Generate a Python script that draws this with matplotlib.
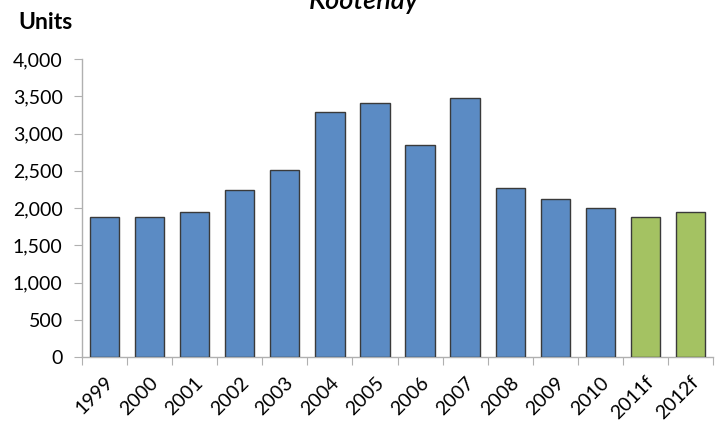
import matplotlib
matplotlib.use("Agg")
import matplotlib.pyplot as plt
from matplotlib.ticker import FuncFormatter

years = ["1999", "2000", "2001", "2002", "2003", "2004", "2005", "2006",
         "2007", "2008", "2009", "2010", "2011f", "2012f"]
units = [1875, 1875, 1942, 2241, 2514, 3289, 3413, 2849, 3476, 2262, 2115, 1994, 1881, 1948]
is_forecast = [False] * 12 + [True, True]

blue = "#5B8BC4"
green = "#A4C262"

plt.rcParams['font.family'] = ['Lato', 'DejaVu Sans']

fig = plt.figure(figsize=(7.19, 4.21), dpi=100)
ax = fig.add_axes([82 / 719, 1 - 357 / 421, (713 - 82) / 719, (357 - 59) / 421])

x = list(range(len(years)))
colors = [green if f else blue for f in is_forecast]
ax.bar(x, units, width=0.65, color=colors, edgecolor="#3a3a3a", linewidth=1.0, zorder=3)

ax.set_xlim(-0.5, len(years) - 0.5)
ax.set_ylim(0, 4000)
ax.set_yticks(range(0, 4001, 500))
ax.yaxis.set_major_formatter(FuncFormatter(lambda v, p: f"{int(v):,}"))

ax.set_xticks([i - 0.5 for i in range(len(years) + 1)])
ax.set_xticklabels([])
ax.set_xticks(x, minor=True)
ax.set_xticklabels(years, minor=True, rotation=45, ha="right", va="top",
                   rotation_mode="anchor", fontsize=14)
ax.tick_params(axis="x", which="minor", length=0, pad=12)
ax.tick_params(axis="x", which="major", length=6, color="#b0b0b0", direction="out")
ax.tick_params(axis="y", length=6, color="#b0b0b0", labelsize=14, pad=8)

for s in ["top", "right"]:
    ax.spines[s].set_visible(False)
for s in ["left", "bottom"]:
    ax.spines[s].set_color("#b0b0b0")
    ax.spines[s].set_linewidth(1.0)

fig.text(18 / 719, 1 - 29 / 421, "Units", fontsize=16.5, fontweight="bold", ha="left", va="baseline")
fig.text(364 / 719, 1 - 9 / 421, "Kootenay", fontsize=19.5, fontweight="semibold", fontstyle="italic",
         ha="center", va="baseline")

fig.savefig("out.png", dpi=100)
